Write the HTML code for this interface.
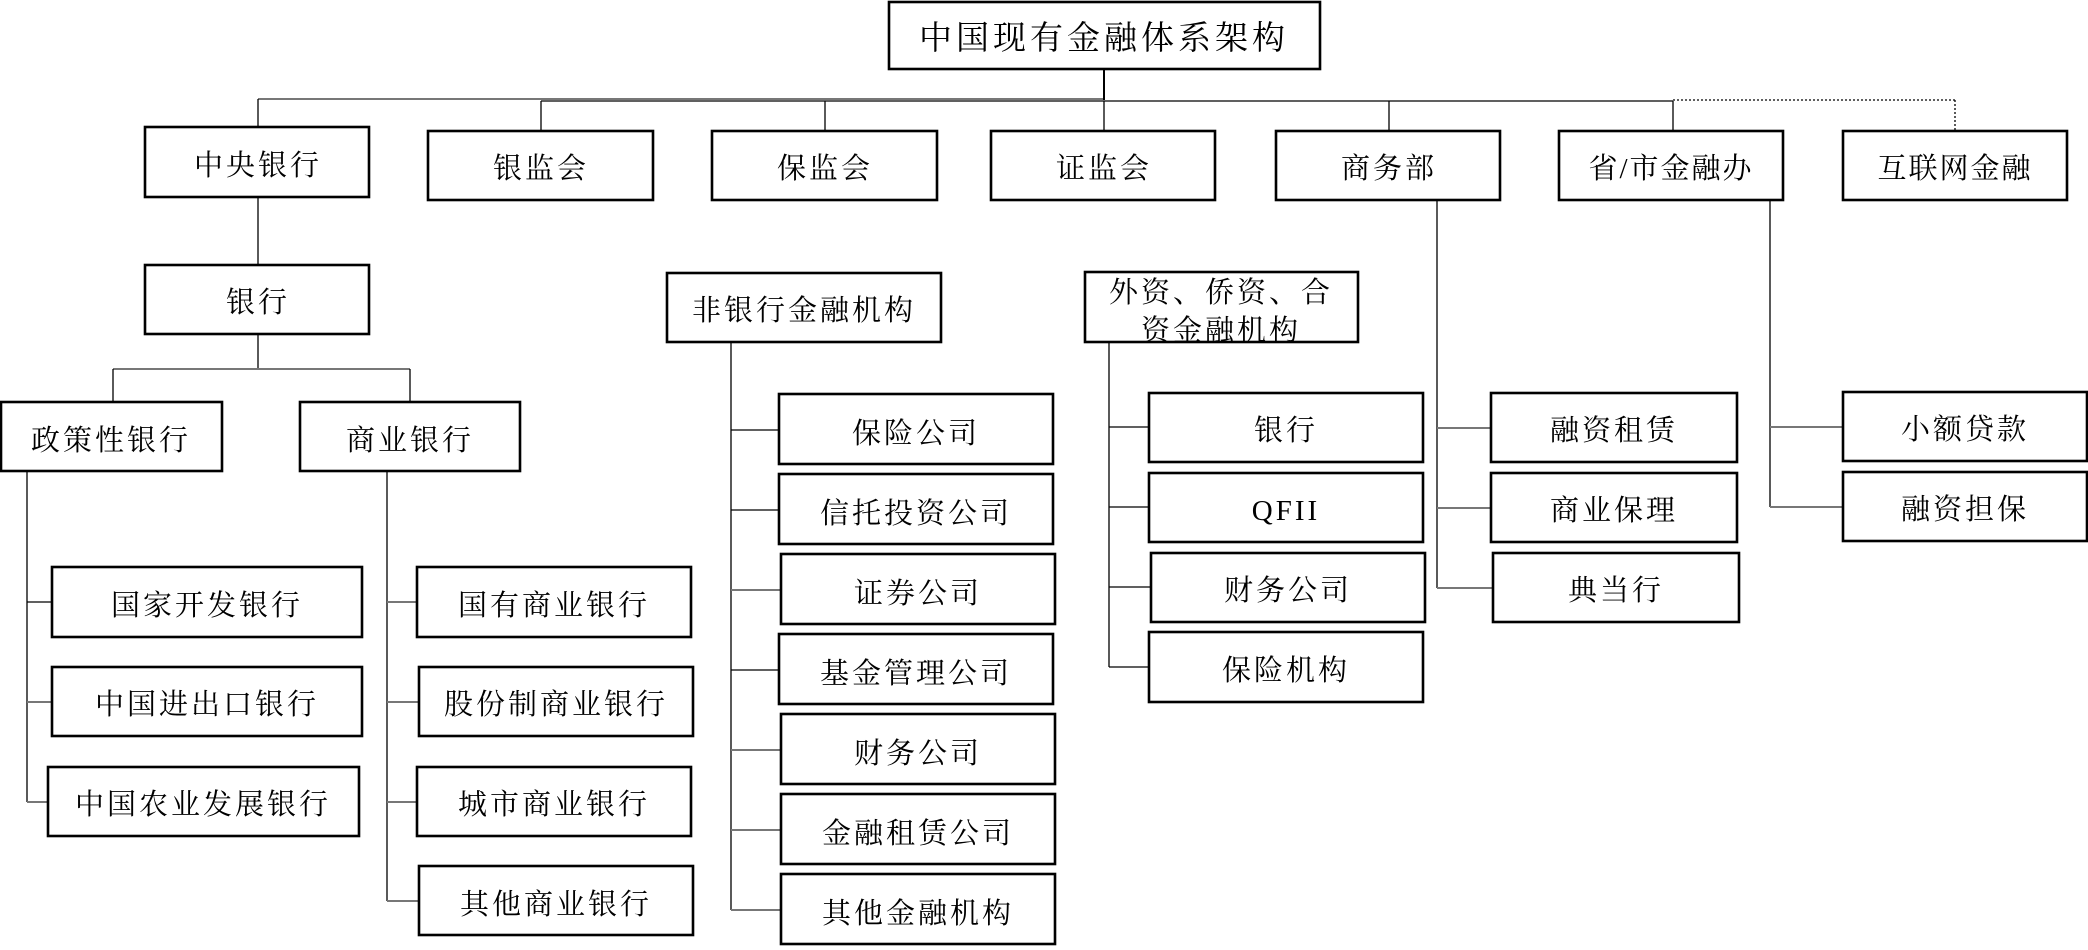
<!DOCTYPE html>
<html><head><meta charset="utf-8"><style>
html,body{margin:0;padding:0;background:#fff;}
svg{display:block;}
text{font-family:"Liberation Serif","Noto Serif CJK SC","Noto Sans CJK SC",serif;font-size:29px;fill:#000;text-anchor:middle;dominant-baseline:central;transform:translateY(3px);}
.b{fill:#fff;stroke:#000;stroke-width:2.6;}
.l{stroke:#000;stroke-width:1.3;fill:none;}
.g{stroke:#777;stroke-width:2;fill:none;}
</style></head><body>
<svg width="2088" height="950" viewBox="0 0 2088 950" xmlns="http://www.w3.org/2000/svg">
<line class="g" x1="258" y1="99" x2="1104" y2="99"/>
<line class="l" x1="541" y1="101" x2="1673" y2="101"/>
<line class="l" x1="1673" y1="100" x2="1955" y2="100" stroke-dasharray="2,2"/>
<line class="l" x1="1955" y1="100" x2="1955" y2="131" stroke-dasharray="2,2"/>
<line x1="1104" y1="69" x2="1104" y2="100" stroke="#000" stroke-width="2"/>
<line class="l" x1="258" y1="99" x2="258" y2="127"/>
<line class="l" x1="541" y1="101" x2="541" y2="131"/>
<line class="l" x1="825" y1="101" x2="825" y2="131"/>
<line class="l" x1="1104" y1="101" x2="1104" y2="131"/>
<line class="l" x1="1389" y1="101" x2="1389" y2="131"/>
<line class="l" x1="1673" y1="101" x2="1673" y2="131"/>
<line class="l" x1="258" y1="197" x2="258" y2="265"/>
<line class="l" x1="258" y1="334" x2="258" y2="369"/>
<line class="g" x1="113" y1="369" x2="410" y2="369"/>
<line class="l" x1="113" y1="369" x2="113" y2="402"/>
<line class="l" x1="410" y1="369" x2="410" y2="402"/>
<line class="l" x1="27" y1="471" x2="27" y2="802"/>
<line class="l" x1="27" y1="602" x2="52" y2="602"/>
<line class="g" x1="27" y1="702" x2="52" y2="702"/>
<line class="g" x1="27" y1="802" x2="48" y2="802"/>
<line class="l" x1="387" y1="471" x2="387" y2="901"/>
<line class="g" x1="387" y1="602" x2="417" y2="602"/>
<line class="g" x1="387" y1="702" x2="419" y2="702"/>
<line class="g" x1="387" y1="802" x2="417" y2="802"/>
<line class="g" x1="387" y1="901" x2="419" y2="901"/>
<line class="l" x1="731" y1="342" x2="731" y2="910"/>
<line class="l" x1="731" y1="430" x2="779" y2="430"/>
<line class="l" x1="731" y1="510" x2="779" y2="510"/>
<line class="g" x1="731" y1="590" x2="781" y2="590"/>
<line class="l" x1="731" y1="670" x2="779" y2="670"/>
<line class="g" x1="731" y1="750" x2="781" y2="750"/>
<line class="g" x1="731" y1="830" x2="781" y2="830"/>
<line class="g" x1="731" y1="910" x2="781" y2="910"/>
<line class="l" x1="1109" y1="340" x2="1109" y2="667"/>
<line class="l" x1="1109" y1="427" x2="1149" y2="427"/>
<line class="l" x1="1109" y1="507" x2="1149" y2="507"/>
<line class="l" x1="1109" y1="587" x2="1151" y2="587"/>
<line class="l" x1="1109" y1="667" x2="1149" y2="667"/>
<line class="l" x1="1437" y1="200" x2="1437" y2="588"/>
<line class="g" x1="1437" y1="428" x2="1491" y2="428"/>
<line class="g" x1="1437" y1="508" x2="1491" y2="508"/>
<line class="g" x1="1437" y1="588" x2="1493" y2="588"/>
<line class="l" x1="1770" y1="200" x2="1770" y2="507"/>
<line class="g" x1="1770" y1="427" x2="1843" y2="427"/>
<line class="g" x1="1770" y1="507" x2="1843" y2="507"/>

<rect class="b" x="889" y="2" width="431" height="67"/>
<text x="1104" y="36" style="font-size:33px;letter-spacing:4px">中国现有金融体系架构</text>

<rect class="b" x="145" y="127" width="224" height="70"/><text x="258" y="163" style="letter-spacing:3px">中央银行</text>
<rect class="b" x="428" y="131" width="225" height="69"/><text x="541" y="166" style="letter-spacing:3px">银监会</text>
<rect class="b" x="712" y="131" width="225" height="69"/><text x="825" y="166" style="letter-spacing:3px">保监会</text>
<rect class="b" x="991" y="131" width="224" height="69"/><text x="1104" y="166" style="letter-spacing:3px">证监会</text>
<rect class="b" x="1276" y="131" width="224" height="69"/><text x="1389" y="166" style="letter-spacing:3px">商务部</text>
<rect class="b" x="1559" y="131" width="224" height="69"/><text x="1671" y="166" style="letter-spacing:2px">省/市金融办</text>
<rect class="b" x="1843" y="131" width="224" height="69"/><text x="1955" y="166" style="letter-spacing:2px">互联网金融</text>

<rect class="b" x="145" y="265" width="224" height="69"/><text x="258" y="300" style="letter-spacing:3px">银行</text>
<rect class="b" x="667" y="273" width="274" height="69"/><text x="804" y="308" style="letter-spacing:3px">非银行金融机构</text>
<rect class="b" x="1085" y="272" width="273" height="70"/>
<text x="1221" y="290" style="letter-spacing:3px">外资、侨资、合</text>
<text x="1221" y="328" style="letter-spacing:3px">资金融机构</text>

<rect class="b" x="1" y="402" width="221" height="69"/><text x="111" y="438" style="letter-spacing:3px">政策性银行</text>
<rect class="b" x="300" y="402" width="220" height="69"/><text x="410" y="438" style="letter-spacing:3px">商业银行</text>

<rect class="b" x="52" y="567" width="310" height="70"/><text x="207" y="603" style="letter-spacing:3px">国家开发银行</text>
<rect class="b" x="52" y="667" width="310" height="69"/><text x="207" y="702" style="letter-spacing:3px">中国进出口银行</text>
<rect class="b" x="48" y="767" width="311" height="69"/><text x="203" y="802" style="letter-spacing:3px">中国农业发展银行</text>

<rect class="b" x="417" y="567" width="274" height="70"/><text x="554" y="603" style="letter-spacing:3px">国有商业银行</text>
<rect class="b" x="419" y="667" width="274" height="69"/><text x="556" y="702" style="letter-spacing:3px">股份制商业银行</text>
<rect class="b" x="417" y="767" width="274" height="69"/><text x="554" y="802" style="letter-spacing:3px">城市商业银行</text>
<rect class="b" x="419" y="866" width="274" height="69"/><text x="556" y="902" style="letter-spacing:3px">其他商业银行</text>

<rect class="b" x="779" y="394" width="274" height="70"/><text x="916" y="431" style="letter-spacing:3px">保险公司</text>
<rect class="b" x="779" y="474" width="274" height="70"/><text x="916" y="511" style="letter-spacing:3px">信托投资公司</text>
<rect class="b" x="781" y="554" width="274" height="70"/><text x="918" y="591" style="letter-spacing:3px">证券公司</text>
<rect class="b" x="779" y="634" width="274" height="70"/><text x="916" y="671" style="letter-spacing:3px">基金管理公司</text>
<rect class="b" x="781" y="714" width="274" height="70"/><text x="918" y="751" style="letter-spacing:3px">财务公司</text>
<rect class="b" x="781" y="794" width="274" height="70"/><text x="918" y="831" style="letter-spacing:3px">金融租赁公司</text>
<rect class="b" x="781" y="874" width="274" height="70"/><text x="918" y="911" style="letter-spacing:3px">其他金融机构</text>

<rect class="b" x="1149" y="393" width="274" height="69"/><text x="1286" y="428" style="letter-spacing:3px">银行</text>
<rect class="b" x="1149" y="473" width="274" height="69"/><text x="1286" y="508" style="letter-spacing:3px">QFII</text>
<rect class="b" x="1151" y="553" width="274" height="69"/><text x="1288" y="588" style="letter-spacing:3px">财务公司</text>
<rect class="b" x="1149" y="632" width="274" height="70"/><text x="1286" y="668" style="letter-spacing:3px">保险机构</text>

<rect class="b" x="1491" y="393" width="246" height="69"/><text x="1614" y="428" style="letter-spacing:3px">融资租赁</text>
<rect class="b" x="1491" y="473" width="246" height="69"/><text x="1614" y="508" style="letter-spacing:3px">商业保理</text>
<rect class="b" x="1493" y="553" width="246" height="69"/><text x="1616" y="588" style="letter-spacing:3px">典当行</text>

<rect class="b" x="1843" y="392" width="244" height="69"/><text x="1965" y="427" style="letter-spacing:3px">小额贷款</text>
<rect class="b" x="1843" y="472" width="244" height="69"/><text x="1965" y="507" style="letter-spacing:3px">融资担保</text>
</svg>
</body></html>
